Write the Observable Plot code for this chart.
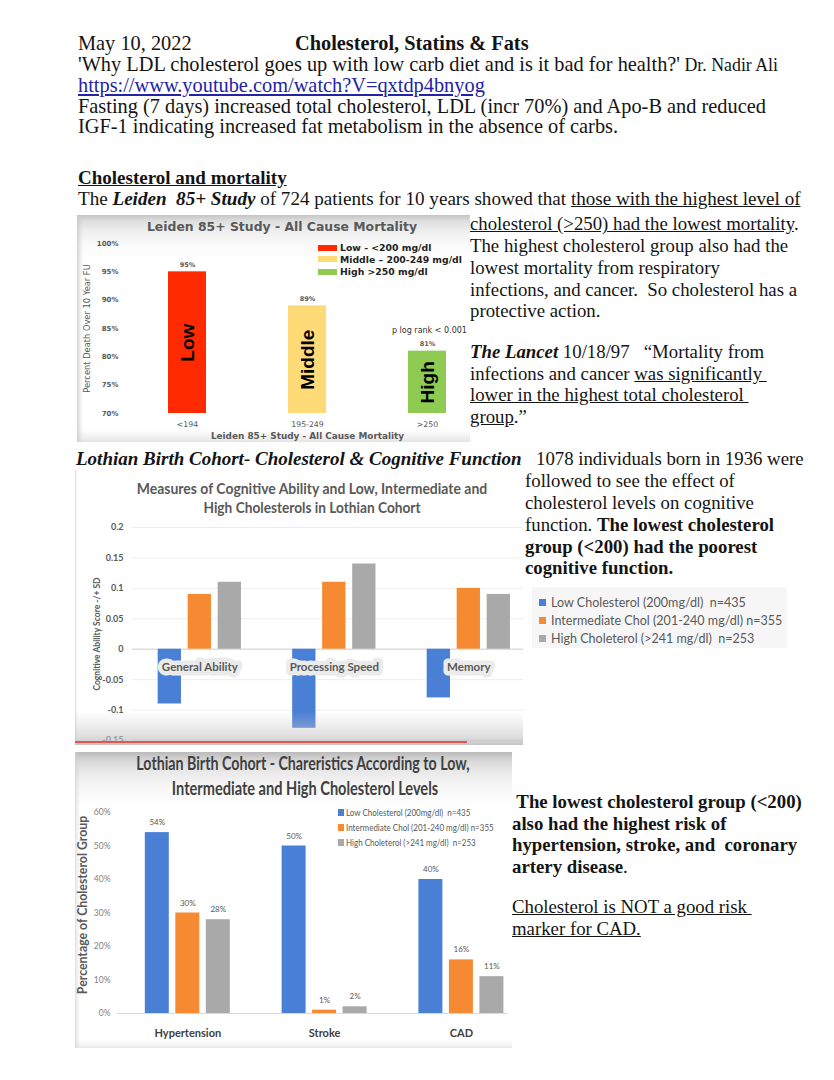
<!DOCTYPE html>
<html><head><meta charset="utf-8">
<script src="https://cdn.jsdelivr.net/npm/d3@7"></script>
<script src="https://cdn.jsdelivr.net/npm/@observablehq/plot@0.6"></script>
<style>
html,body{margin:0;padding:0;background:#fff;}
#page{position:relative;width:834px;height:1080px;overflow:hidden;font-family:"Liberation Serif","Times New Roman",serif;color:#141414;}
.t{position:absolute;white-space:pre;margin:0;}
.ln{position:absolute;white-space:pre;margin:0;line-height:0.85;}
.box{position:absolute;overflow:hidden;}
.lt{font-family:Lato,"Open Sans",sans-serif;}
.dj{font-family:"DejaVu Sans",sans-serif;}
.sw{position:absolute;}
a{color:#2323a8;}
</style></head>
<body><div id="page">

<!-- Chart 1 box -->
<div id="box1" class="box" style="left:77px;top:215px;width:393px;height:227px;background:linear-gradient(to bottom,#c4c4c4 0px,#dedede 6px,#eeeeee 16px,#fafafa 30px,#ffffff 45px,#ffffff 215px,#e6e6e6 227px);box-shadow:inset 5px 0 5px -3px #c8c8c8;">
  <div id="t1" class="t dj" style="left:205px;top:5px;font-size:12.5px;line-height:14px;font-weight:bold;color:#595959;">Leiden 85+ Study - All Cause Mortality</div>
  <div class="sw" style="left:241px;top:29.7px;width:19px;height:6px;background:#ff2a00;"></div>
  <div class="sw" style="left:241px;top:41.3px;width:19px;height:6px;background:#ffdb78;"></div>
  <div class="sw" style="left:241px;top:53.7px;width:19px;height:6px;background:#8fcb52;"></div>
  <div id="leg1" class="t dj" style="left:263px;top:26.7px;font-size:9px;line-height:12px;font-weight:bold;color:#222;">Low - &lt;200 mg/dl
Middle – 200-249 mg/dl
High &gt;250 mg/dl</div>
  <div class="t dj" style="left:315px;top:109.5px;font-size:8px;line-height:11px;color:#333;">p log rank &lt; 0.001</div>
  <div id="c1" style="position:absolute;left:0;top:0;"></div>
</div>

<!-- Chart 2 box -->
<div id="box2" class="box" style="left:75px;top:470px;width:448px;height:275px;background:#fff;box-shadow:inset 2px 0 2px -1px #d8d8d8;">
  <div id="t2a" class="t lt" style="left:237px;top:10px;font-size:15px;line-height:16px;font-weight:bold;color:#595959;">Measures of Cognitive Ability and Low, Intermediate and</div>
  <div id="t2b" class="t lt" style="left:237px;top:29px;font-size:15px;line-height:16px;font-weight:bold;color:#595959;">High Cholesterols in Lothian Cohort</div>
  <div id="c2" style="position:absolute;left:0;top:0;"></div>
  <div style="position:absolute;left:0;top:242px;width:448px;height:33px;background:linear-gradient(to bottom,rgba(255,255,255,0),rgba(200,200,200,0.55) 70%,rgba(185,185,185,0.8));"></div>
  <div style="position:absolute;left:0;top:271px;width:392px;height:2px;background:#e8534c;"></div>
</div>

<!-- Chart 2 legend -->
<div class="box" style="left:532px;top:587px;width:255px;height:61px;background:#f6f6f6;">
  <div class="sw" style="left:7px;top:11.5px;width:7px;height:7px;background:#4a7fd6;"></div>
  <div class="sw" style="left:7px;top:29.5px;width:7px;height:7px;background:#f58a32;"></div>
  <div class="sw" style="left:7px;top:47.5px;width:7px;height:7px;background:#a9a9a9;"></div>
  <div id="leg2" class="t lt" style="left:19px;top:6px;font-size:14px;line-height:18px;color:#595959;"></div>
</div>

<!-- Chart 3 box -->
<div id="box3" class="box" style="left:75px;top:752px;width:437px;height:296px;background:linear-gradient(to bottom,#b9b9b9 0px,#d6d6d6 8px,#e9e9e9 20px,#f6f6f6 34px,#ffffff 55px,#ffffff 288px,#ececec 296px);box-shadow:inset 4px 0 5px -3px #cfcfcf;">
  <div id="t3a" class="t lt" style="left:228px;top:1px;font-size:18.5px;line-height:20px;font-weight:bold;color:#404040;">Lothian Birth Cohort - Chareristics According to Low,</div>
  <div id="t3b" class="t lt" style="left:230px;top:26px;font-size:18.5px;line-height:20px;font-weight:bold;color:#404040;">Intermediate and High Cholesterol Levels</div>
  <div id="c3" style="position:absolute;left:0;top:0;"></div>
  <div class="sw" style="left:263px;top:57px;width:5.5px;height:6.5px;background:#4a7fd6;"></div>
  <div class="sw" style="left:263px;top:72px;width:5.5px;height:6.5px;background:#f58a32;"></div>
  <div class="sw" style="left:263px;top:87px;width:5.5px;height:6.5px;background:#a9a9a9;"></div>
  <div id="leg3" class="t lt" style="left:271px;top:52.5px;font-size:10px;line-height:15px;color:#595959;"></div>
</div>

</div>
<script>
// ---------- data ----------
const leidenGroups = ["<194", "195-249", ">250"];
const leidenLevels = ["Low", "Middle", "High"];
const leidenValues = [95, 89, 81];
const leidenTicks = [70, 75, 80, 85, 90, 95, 100];

const cholSeries = ["Low Cholesterol (200mg/dl)  n=435", "Intermediate Chol (201-240 mg/dl) n=355", "High Choleterol (>241 mg/dl)  n=253"];

const cogMeasures = ["General Ability", "Processing Speed", "Memory"];
const cogLow = [-0.09, -0.13, -0.08];
const cogIntermediate = [0.09, 0.11, 0.10];
const cogHigh = [0.11, 0.14, 0.09];
const cogTicks = [-0.15, -0.1, -0.05, 0, 0.05, 0.1, 0.15, 0.2];

const riskConditions = ["Hypertension", "Stroke", "CAD"];
const riskLow = [54, 50, 40];
const riskIntermediate = [30, 1, 16];
const riskHigh = [28, 2, 11];
const riskTicks = [0, 10, 20, 30, 40, 50, 60];

// ---------- styles ----------
const leidenColors = ["#ff2a00", "#ffdb78", "#8fcb52"];
const seriesColors = ["#4a7fd6", "#f58a32", "#a9a9a9"];
const cogOffsets = [-30, 0, 30];
const riskOffsets = [-30.5, 0, 30.5];

// ---------- page text, one element per line (left, baseline, font size, html) ----------
const page = document.getElementById("page");
function line(left, baseline, fs, html, extra) {
  const d = document.createElement("div");
  d.className = "ln";
  d.style.left = left + "px";
  d.style.top = (baseline - 0.7625 * fs) + "px";
  d.style.fontSize = fs + "px";
  if (extra) d.style.cssText += extra;
  d.innerHTML = html;
  page.appendChild(d);
  return d;
}
const topLines = [
  "May 10, 2022",
  "'Why LDL cholesterol goes up with low carb diet and is it bad for health?'<span id=\"drn\" style=\"font-size:15.5px\"> Dr. Nadir Ali</span>",
  "<a href=\"https://www.youtube.com/watch?V=qxtdp4bnyog\">https://www.youtube.com/watch?V=qxtdp4bnyog</a>",
  "Fasting (7 days) increased total cholesterol, LDL (incr 70%) and Apo-B and reduced",
  "IGF-1 indicating increased fat metabolism in the absence of carbs."
];
topLines.forEach((h, i) => line(78, 50.7 + 20.8 * i, 20.35, h));
line(295, 50.7, 20.35, "Cholesterol, Statins &amp; Fats", "font-weight:bold;");
line(78, 184.3, 19, "Cholesterol and mortality", "font-weight:bold;text-decoration:underline;");
line(78, 205.5, 19.1, "The <b><i>Leiden  85+ Study</i></b> of 724 patients for 10 years showed that <u>those with the highest level of</u>");

const side1 = [
  "<u>cholesterol (&gt;250) had the lowest mortality</u>.",
  "The highest cholesterol group also had the",
  "lowest mortality from respiratory",
  "infections, and cancer.  So cholesterol has a",
  "protective action."
];
side1.forEach((h, i) => line(470, 230.8 + 21.75 * i, 18.8, h));
const side1b = [
  "<b><i>The Lancet</i></b> 10/18/97   “Mortality from",
  "infections and cancer <u>was significantly </u>",
  "<u>lower in the highest total cholesterol </u>",
  "<u>group</u>.”"
];
side1b.forEach((h, i) => line(470, 358.3 + 21.75 * i, 18.8, h));

line(76, 465, 19, "Lothian Birth Cohort- Cholesterol &amp; Cognitive Function", "font-weight:bold;font-style:italic;");
line(536, 465, 18.8, "1078 individuals born in 1936 were");
const side2 = [
  "followed to see the effect of",
  "cholesterol levels on cognitive",
  "function. <b>The lowest cholesterol</b>",
  "<b>group (&lt;200) had the poorest</b>",
  "<b>cognitive function.</b>"
];
side2.forEach((h, i) => line(525, 487.7 + 21.75 * i, 18.8, h));

const side3 = [
  "<b> The lowest cholesterol group (&lt;200)</b>",
  "<b>also had the highest risk of</b>",
  "<b>hypertension, stroke, and  coronary</b>",
  "<b>artery disease</b>."
];
side3.forEach((h, i) => line(512, 808.3 + 21.75 * i, 18.8, h));
const side3b = [
  "<u>Cholesterol is NOT a good risk </u>",
  "<u>marker for CAD.</u>"
];
side3b.forEach((h, i) => line(512, 913.3 + 21.75 * i, 18.8, h));

// ---------- chart 1 ----------
const leidenRows = leidenGroups.map((g, i) => ({group: g, level: leidenLevels[i], value: leidenValues[i]}));
const leidenBase = leidenTicks[0];
const chart1 = Plot.plot({
  width: 393, height: 227,
  marginLeft: 73, marginRight: 6, marginTop: 28, marginBottom: 29,
  style: {background: "transparent", fontFamily: "'DejaVu Sans', sans-serif", overflow: "visible"},
  x: {domain: leidenGroups, paddingInner: 0.6833, paddingOuter: 0.15, round: false},
  y: {domain: [leidenBase, leidenTicks[leidenTicks.length - 1]]},
  color: {domain: leidenLevels, range: leidenColors},
  marks: [
    Plot.axisY({ticks: leidenTicks, tickFormat: d => d + "%", tickSize: 0, tickPadding: 32, fontSize: 7, fontWeight: "bold", color: "#595959", label: null}),
    Plot.axisX({tickSize: 0, tickPadding: 8, fontSize: 7.8, color: "#595959", label: null}),
    Plot.barY(leidenRows, {x: "group", y1: leidenBase, y2: "value", fill: "level"}),
    Plot.text(leidenRows, {x: "group", y: "value", text: d => d.value + "%", dy: -7, fontSize: 6.5, fontWeight: "bold", fill: "#595959"}),
    Plot.text(leidenRows, {x: "group", y: d => (leidenBase + d.value) / 2, text: "level", rotate: -90, fontSize: 19, fontWeight: "bold", fill: "#000", fontFamily: "'Liberation Sans', Arial, sans-serif"}),
    Plot.text(["Leiden 85+ Study - All Cause Mortality"], {frameAnchor: "bottom", dy: 23, text: d => d, textAnchor: "middle", lineAnchor: "middle", fontSize: 8.9, fontWeight: "bold", fill: "#595959"}),
    Plot.text(["Percent Death Over 10 Year FU"], {frameAnchor: "left", dx: -63, rotate: -90, text: d => d, textAnchor: "middle", lineAnchor: "middle", fontSize: 8.3, fill: "#595959"})
  ]
});
document.getElementById("c1").appendChild(chart1);

// ---------- chart 2 ----------
const cogRows = cogMeasures.flatMap((m, i) => [
  {measure: m, series: cholSeries[0], value: cogLow[i]},
  {measure: m, series: cholSeries[1], value: cogIntermediate[i]},
  {measure: m, series: cholSeries[2], value: cogHigh[i]}
]);
const chart2 = Plot.plot({
  width: 448, height: 275,
  marginLeft: 57, marginRight: 0, marginTop: 57, marginBottom: 5,
  style: {background: "transparent", fontFamily: "Lato, 'Open Sans', sans-serif", overflow: "visible"},
  x: {domain: cogMeasures, paddingInner: 0.8268, paddingOuter: 0.3669, align: 0.564, round: false, axis: null},
  y: {domain: [cogTicks[0], cogTicks[cogTicks.length - 1]]},
  color: {domain: cholSeries, range: seriesColors},
  marks: [
    Plot.gridY({ticks: cogTicks, stroke: "#000", strokeOpacity: 0.07}),
    Plot.axisY({ticks: cogTicks, tickFormat: d => String(+d.toFixed(2)), tickSize: 0, tickPadding: 9, fontSize: 9, fontWeight: "bold", color: "#595959", label: null}),
    Plot.ruleY([0], {stroke: "#d4d4d4"}),
    ...cholSeries.map((s, k) => Plot.barY(cogRows.filter(d => d.series === s), {x: "measure", y: "value", fill: "series", dx: cogOffsets[k]})),
    Plot.text(cogMeasures, {x: d => d, y: () => 0, dy: 18, text: d => d, fontSize: 11.5, fontWeight: "bold", fill: "#595959", stroke: "#ebebeb", strokeWidth: 9, strokeLinejoin: "round", paintOrder: "stroke"}),
    Plot.text(["Cognitive Ability Score -/+ SD"], {frameAnchor: "left", dx: -35, rotate: -90, text: d => d, textAnchor: "middle", lineAnchor: "middle", fontSize: 8.5, fontWeight: "bold", fill: "#595959"})
  ]
});
document.getElementById("c2").appendChild(chart2);

// ---------- chart 3 ----------
const riskRows = riskConditions.flatMap((c, i) => [
  {condition: c, series: cholSeries[0], value: riskLow[i]},
  {condition: c, series: cholSeries[1], value: riskIntermediate[i]},
  {condition: c, series: cholSeries[2], value: riskHigh[i]}
]);
const chart3 = Plot.plot({
  width: 437, height: 296,
  marginLeft: 42, marginRight: 5, marginTop: 60, marginBottom: 35,
  style: {background: "transparent", fontFamily: "Lato, 'Open Sans', sans-serif", overflow: "visible"},
  x: {domain: riskConditions, paddingInner: 0.8246, paddingOuter: 0.3378, align: 0.631, round: false},
  y: {domain: [riskTicks[0], riskTicks[riskTicks.length - 1]]},
  color: {domain: cholSeries, range: seriesColors},
  marks: [
    Plot.axisY({ticks: riskTicks, tickFormat: d => d + "%", tickSize: 0, tickPadding: 7, fontSize: 8.5, color: "#7f7f7f", label: null}),
    Plot.axisX({tickSize: 0, tickPadding: 16, fontSize: 11, fontWeight: "bold", color: "#404040", label: null}),
    Plot.ruleY([0], {stroke: "#d9d9d9"}),
    ...cholSeries.map((s, k) => Plot.barY(riskRows.filter(d => d.series === s), {x: "condition", y: "value", fill: "series", dx: riskOffsets[k]})),
    ...cholSeries.map((s, k) => Plot.text(riskRows.filter(d => d.series === s), {x: "condition", y: "value", text: d => d.value + "%", dx: riskOffsets[k], dy: -10, fontSize: 8, fill: "#595959"})),
    Plot.text(["Percentage of Cholesterol Group"], {frameAnchor: "left", dx: -34, dy: -8, rotate: -90, text: d => d, textAnchor: "middle", lineAnchor: "middle", fontSize: 12.3, fontWeight: "bold", fill: "#595959"})
  ]
});
document.getElementById("c3").appendChild(chart3);

// ---------- legends ----------
document.getElementById("leg2").textContent = cholSeries.join("\n");
document.getElementById("leg3").textContent = cholSeries.join("\n");

// ---------- width fitting of HTML labels ----------
function fitCenter(id, target) {
  const el = document.getElementById(id);
  el.style.transform = "translateX(-50%)";
  const w = el.offsetWidth;
  el.style.transform = `translateX(-50%) scaleX(${target / w})`;
}
function fitLeft(id, target) {
  const el = document.getElementById(id);
  el.style.transform = "none";
  const w = el.offsetWidth;
  el.style.transformOrigin = "0 50%";
  el.style.transform = `scaleX(${target / w})`;
}
function fitRightEdge(id, right) {
  const el = document.getElementById(id);
  const px = page.getBoundingClientRect().left;
  const r = el.getBoundingClientRect();
  const fs = parseFloat(el.style.fontSize);
  const nfs = fs * (right - (r.left - px)) / r.width;
  if (nfs > 12 && nfs < 20) el.style.fontSize = nfs + "px";
}
function fitAll() {
  fitCenter("t1", 270);
  fitCenter("t2a", 350);
  fitCenter("t2b", 217);
  fitCenter("t3a", 333);
  fitCenter("t3b", 266);
  fitLeft("leg1", 122);
  fitLeft("leg2", 231);
  fitLeft("leg3", 148);
  fitRightEdge("drn", 778);
}
fitAll();
if (document.fonts && document.fonts.ready) document.fonts.ready.then(fitAll);
</script>
</body></html>
